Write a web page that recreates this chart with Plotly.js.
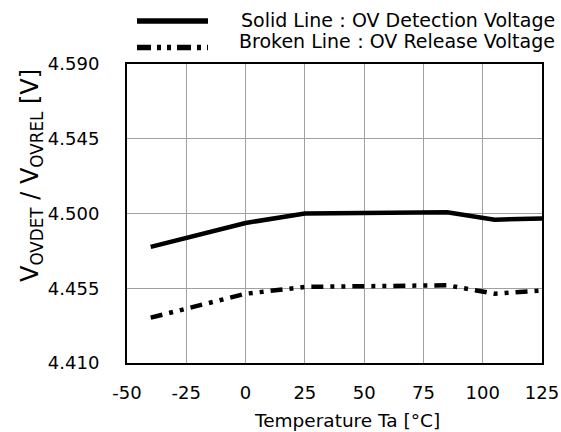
<!DOCTYPE html>
<html>
<head>
<meta charset="utf-8">
<script src="https://cdn.plot.ly/plotly-3.0.1.min.js"></script>
<style>
  html, body { margin: 0; padding: 0; background: #ffffff; }
  #chart { width: 561px; height: 432px; }
</style>
</head>
<body>
<div id="chart"></div>
<script>
// Temperature (°C)
const temps = [-40, 0, 25, 50, 85, 105, 125];
// OV detection voltage (solid line)
const ovDetect = [4.4799, 4.4943, 4.5000, 4.5003, 4.5007, 4.4963, 4.4970];
// OV release voltage (broken line)
const ovRelease = [4.4373, 4.4517, 4.4558, 4.4561, 4.4568, 4.4517, 4.4536];

const xTicks = [-50, -25, 0, 25, 50, 75, 100, 125];
const yTicks = [4.410, 4.455, 4.500, 4.545, 4.590];
const yTickText = ['4.410', '4.455', '4.500', '4.545', '4.590'];

const seriesNames = ['Solid Line：OV Detection Voltage', 'Broken Line：OV Release Voltage'];
const xTitle = 'Temperature Ta [°C]';
const yTitle = 'V<sub>OVDET</sub> / V<sub>OVREL</sub> [V]';

const FONT = 'DejaVu Sans, Liberation Sans, Arial, sans-serif';
const brokenDash = '12px,7px,4px,7px,4px,7px';

const traces = [
  { x: temps, y: ovDetect, type: 'scatter', mode: 'lines', name: seriesNames[0],
    line: { color: '#000000', width: 4.5 }, showlegend: false },
  { x: temps, y: ovRelease, type: 'scatter', mode: 'lines', name: seriesNames[1],
    line: { color: '#000000', width: 4.5, dash: brokenDash }, showlegend: false }
];

// plot area in px: left 127, right 542, top 64, bottom 363
const L = 127, R = 542, T = 64, B = 363;
const px2x = p => (p - L) / (R - L);
const px2y = p => (B - p) / (B - T);

const layout = {
  width: 561, height: 432,
  margin: { l: L, r: 561 - R, t: T, b: 432 - B, pad: 0 },
  paper_bgcolor: '#ffffff', plot_bgcolor: '#ffffff',
  font: { family: FONT, size: 18, color: '#000000' },
  showlegend: false,
  xaxis: {
    range: [-50, 125], tickvals: xTicks, ticktext: xTicks.map(String),
    showgrid: true, gridcolor: '#A0A0A0', gridwidth: 1,
    zeroline: false, showline: true, mirror: true, linecolor: '#000000', linewidth: 2,
    ticks: 'outside', ticklen: 12, tickcolor: 'rgba(0,0,0,0)',
    tickfont: { family: FONT, size: 18, color: '#000000' }
  },
  yaxis: {
    range: [4.410, 4.590], tickvals: yTicks, ticktext: yTickText,
    showgrid: true, gridcolor: '#A0A0A0', gridwidth: 1,
    zeroline: false, showline: true, mirror: true, linecolor: '#000000', linewidth: 2,
    ticks: 'outside', ticklen: 22, tickcolor: 'rgba(0,0,0,0)',
    tickfont: { family: FONT, size: 18, color: '#000000' }
  },
  shapes: [
    { type: 'line', xref: 'paper', yref: 'paper', x0: px2x(137), x1: px2x(208), y0: px2y(21), y1: px2y(21),
      line: { color: '#000000', width: 5.5 } },
    { type: 'line', xref: 'paper', yref: 'paper', x0: px2x(137), x1: px2x(208), y0: px2y(47.5), y1: px2y(47.5),
      line: { color: '#000000', width: 5.5, dash: '14px,6px,4px,6px,4px,6px' } }
  ],
  annotations: [
    { text: seriesNames[0], xref: 'paper', yref: 'paper', x: px2x(557), y: px2y(20),
      xanchor: 'right', yanchor: 'middle', showarrow: false,
      font: { family: FONT, size: 19, color: '#000000' } },
    { text: seriesNames[1], xref: 'paper', yref: 'paper', x: px2x(557), y: px2y(41),
      xanchor: 'right', yanchor: 'middle', showarrow: false,
      font: { family: FONT, size: 19, color: '#000000' } },
    { text: xTitle, xref: 'paper', yref: 'paper', x: px2x(347), y: px2y(420),
      xanchor: 'center', yanchor: 'middle', showarrow: false,
      font: { family: FONT, size: 18.5, color: '#000000' } },
    { text: yTitle, xref: 'paper', yref: 'paper', x: px2x(31), y: px2y(176),
      xanchor: 'center', yanchor: 'middle', showarrow: false, textangle: -90,
      font: { family: FONT, size: 24, color: '#000000' } }
  ]
};

Plotly.newPlot('chart', traces, layout, { staticPlot: true, displayModeBar: false });
</script>
</body>
</html>
